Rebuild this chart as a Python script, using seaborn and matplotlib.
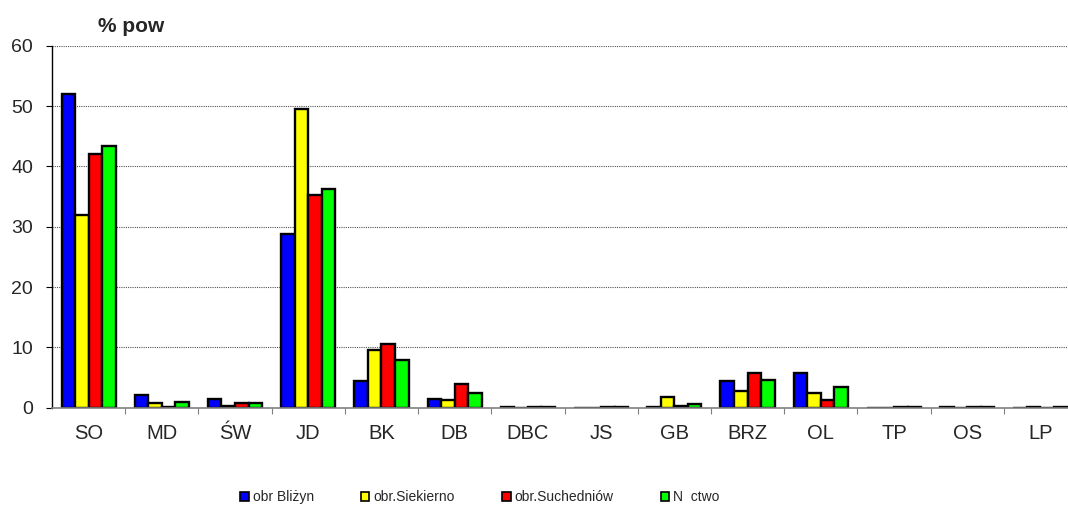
import pandas as pd
import matplotlib
matplotlib.use("Agg")
import matplotlib.pyplot as plt
from matplotlib.patches import Patch
from matplotlib.ticker import MultipleLocator
import seaborn as sns

# data
categories = ["SO", "MD", "ŚW", "JD", "BK", "DB", "DBC", "JS", "GB", "BRZ", "OL", "TP", "OS", "LP"]
series_names = ["obr Bliżyn", "obr.Siekierno", "obr.Suchedniów", "N  ctwo"]
blizyn = [52.0, 2.1, 1.4, 28.8, 4.4, 1.4, 0.1, 0.0, 0.1, 4.4, 5.8, 0.0, 0.1, 0.0]
siekierno = [32.0, 0.7, 0.2, 49.5, 9.6, 1.2, 0.0, 0.0, 1.7, 2.8, 2.4, 0.0, 0.0, 0.1]
suchedniow = [42.1, 0.1, 0.7, 35.3, 10.5, 4.0, 0.1, 0.1, 0.2, 5.8, 1.3, 0.1, 0.1, 0.0]
nctwo = [43.4, 1.0, 0.8, 36.2, 7.9, 2.4, 0.1, 0.1, 0.6, 4.6, 3.4, 0.1, 0.1, 0.1]
colors = ["#0000FF", "#FFFF00", "#FF0000", "#00FF00"]

rows = []
for name, vals in zip(series_names, [blizyn, siekierno, suchedniow, nctwo]):
    for c, v in zip(categories, vals):
        rows.append({"cat": c, "series": name, "val": v})
df = pd.DataFrame(rows)

sns.set_style("white")
plt.rcParams['font.family'] = ['Liberation Sans', 'DejaVu Sans']

fig = plt.figure(figsize=(10.68, 5.12), dpi=100)
ax = fig.add_axes([52 / 1068, 1 - 407.7 / 512, 1025 / 1068, 362 / 512])

sns.barplot(data=df, x="cat", y="val", hue="series", order=categories,
            hue_order=series_names, palette=colors, width=0.74, gap=0,
            edgecolor="black", linewidth=1.7, saturation=1, legend=False, ax=ax)

ax.set_xlim(-0.5, len(categories) - 0.5)
ax.set_ylim(0, 60)
ax.yaxis.set_major_locator(MultipleLocator(10))
ax.set_xlabel("")
ax.set_ylabel("")

ax.yaxis.grid(True, linestyle=(0, (1, 1)), color="#555555", linewidth=0.8)
ax.set_axisbelow(True)

for s in ["top", "right"]:
    ax.spines[s].set_visible(False)
ax.spines["left"].set_color("black")
ax.spines["left"].set_linewidth(1.0)
ax.spines["bottom"].set_color("#808080")
ax.spines["bottom"].set_linewidth(1.2)

ax.tick_params(axis="y", which="major", direction="out", length=4.5, width=0.8,
               color="black", pad=9, labelsize=14, left=True)
ax.tick_params(axis="x", which="major", length=0, pad=12, labelsize=14.5)
ax.set_xticks([i + 0.5 for i in range(len(categories) - 1)], minor=True)
ax.tick_params(axis="x", which="minor", direction="out", length=4.5, width=0.8,
               color="#808080", bottom=True)

fig.text(98 / 1068, 1 - 32 / 512, "% pow", fontsize=15, fontweight="bold",
         va="baseline", ha="left")

handles = [Patch(facecolor=c, edgecolor="black", linewidth=1.2) for c in colors]
fig.legend(handles, series_names, loc="center", bbox_to_anchor=(480 / 1068, 1 - 497 / 512),
           ncol=4, frameon=False, fontsize=10, handlelength=0.6, handleheight=0.6,
           handletextpad=0.3, columnspacing=3.4, borderpad=0)

fig.savefig("out.png", dpi=100)
